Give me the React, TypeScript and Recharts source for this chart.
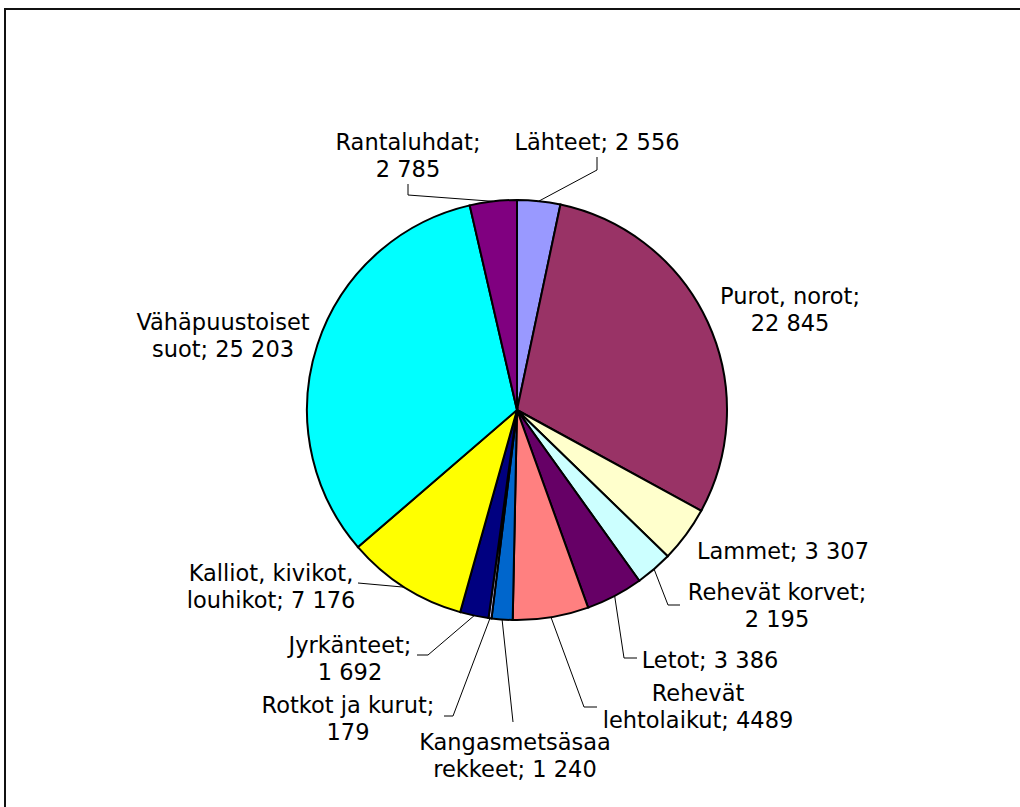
import { PieChart, Pie, Cell } from "recharts";

// habitat types and their areas, clockwise from 12 o'clock
const categories = [
  "Lähteet",
  "Purot, norot",
  "Lammet",
  "Rehevät korvet",
  "Letot",
  "Rehevät lehtolaikut",
  "Kangasmetsäsaarekkeet",
  "Rotkot ja kurut",
  "Jyrkänteet",
  "Kalliot, kivikot, louhikot",
  "Vähäpuustoiset suot",
  "Rantaluhdat",
];
const values = [2556, 22845, 3307, 2195, 3386, 4489, 1240, 179, 1692, 7176, 25203, 2785];
const labelTexts = [
  ["Lähteet; 2 556"],
  ["Purot, norot;", "22 845"],
  ["Lammet; 3 307"],
  ["Rehevät korvet;", "2 195"],
  ["Letot; 3 386"],
  ["Rehevät", "lehtolaikut; 4489"],
  ["Kangasmetsäsaa", "rekkeet; 1 240"],
  ["Rotkot ja kurut;", "179"],
  ["Jyrkänteet;", "1 692"],
  ["Kalliot, kivikot,", "louhikot; 7 176"],
  ["Vähäpuustoiset", "suot; 25 203"],
  ["Rantaluhdat;", "2 785"],
];
const colors = [
  "#9999FF", "#993366", "#FFFFCC", "#CCFFFF", "#660066", "#FF8080",
  "#0066CC", "#CCCCFF", "#000080", "#FFFF00", "#00FFFF", "#800080",
];

// where each label sits (text centre, first line) and the leader line bends
const labelLayout: { x: number; y: number; leader?: number[][] }[] = [
  { x: 597, y: 142, leader: [[597, 170], [597, 157]] },
  { x: 790, y: 296 },
  { x: 783, y: 551 },
  { x: 777, y: 592, leader: [[668, 605], [680, 605]] },
  { x: 710, y: 660, leader: [[624, 658], [637, 658]] },
  { x: 698, y: 693, leader: [[584, 707], [597, 707]] },
  { x: 515, y: 742, leader: [[513, 722]] },
  { x: 348, y: 705, leader: [[453, 716], [444, 716]] },
  { x: 350, y: 645, leader: [[428, 655], [417, 655]] },
  { x: 271, y: 573, leader: [[358, 583]] },
  { x: 223, y: 322 },
  { x: 408, y: 142, leader: [[408, 195], [408, 184]] },
];

const data = categories.map((name, i) => ({ name, value: values[i] }));
const RADIAN = Math.PI / 180;
const LINE_H = 27;

function SliceLabel(props: any) {
  const { cx, cy, midAngle, outerRadius, index } = props;
  const layout = labelLayout[index];
  const lines = labelTexts[index];
  const sx = cx + outerRadius * Math.cos(-midAngle * RADIAN);
  const sy = cy + outerRadius * Math.sin(-midAngle * RADIAN);
  return (
    <g>
      {layout.leader && (
        <polyline
          points={[[sx, sy], ...layout.leader].map((p) => p.join(",")).join(" ")}
          fill="none"
          stroke="#000"
          strokeWidth={1}
        />
      )}
      <text
        x={layout.x}
        y={layout.y}
        textAnchor="middle"
        fill="#000"
        style={{ fontFamily: "'DejaVu Sans', Verdana, sans-serif", fontSize: 22.5 }}
      >
        {lines.map((t, i) => (
          <tspan key={i} x={layout.x} y={layout.y + i * LINE_H} dominantBaseline="central">
            {t}
          </tspan>
        ))}
      </text>
    </g>
  );
}

export default function App() {
  return (
    <div style={{ position: "absolute", left: 0, top: 0, width: 1020, height: 807, overflow: "hidden", background: "#fff" }}>
      <div
        style={{
          position: "absolute",
          left: 4,
          top: 8,
          width: 1100,
          height: 900,
          borderTop: "2px solid #111",
          borderLeft: "2px solid #111",
        }}
      />
      <div style={{ position: "absolute", left: 0, top: 0 }}>
        <PieChart width={1020} height={807} margin={{ top: 0, right: 0, bottom: 0, left: 0 }}>
          <Pie
            data={data}
            dataKey="value"
            nameKey="name"
            cx={517}
            cy={410}
            outerRadius={210}
            startAngle={90}
            endAngle={-270}
            stroke="#000"
            strokeWidth={2}
            label={SliceLabel}
            labelLine={false}
            isAnimationActive={false}
          >
            {data.map((d, i) => (
              <Cell key={d.name} fill={colors[i]} />
            ))}
          </Pie>
        </PieChart>
      </div>
    </div>
  );
}
